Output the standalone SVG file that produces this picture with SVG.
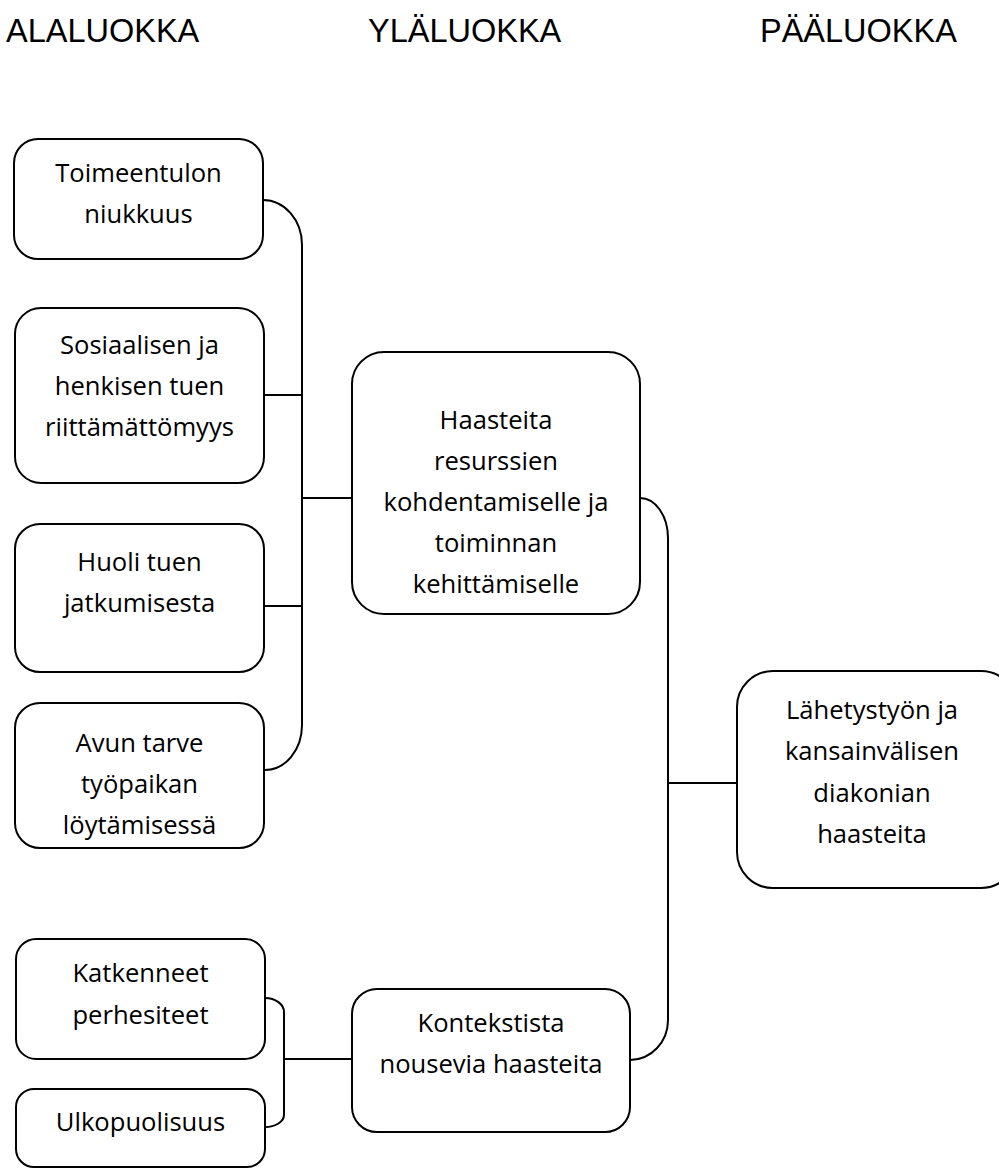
<svg xmlns="http://www.w3.org/2000/svg" width="999" height="1171" viewBox="0 0 999 1171">
<style>
.box{fill:#fff;stroke:#000;stroke-width:2}
.t{font-family:"Open Sans","Noto Sans",sans-serif;font-size:25.6px;fill:#000;text-anchor:middle}
.h{font-family:"Liberation Sans",Arial,sans-serif;font-size:32.5px;fill:#000}
.c{fill:none;stroke:#000;stroke-width:2}
</style>
<rect width="999" height="1171" fill="#fff"/>
<g id="headers">
<text class="h" x="6" y="42">ALALUOKKA</text>
<text class="h" x="368" y="42">YLÄLUOKKA</text>
<text class="h" x="760" y="42">PÄÄLUOKKA</text>
</g>
<g id="connectors">
<path class="c" d="M263,200 A39,45 0 0 1 302,245 L302,725 A37,45 0 0 1 265,770"/>
<path class="c" d="M264,395 H302 M264,606 H302 M302,498 H352"/>
<path class="c" d="M640,498 A28,40 0 0 1 668,538 L668,1020 A38,40 0 0 1 630,1060"/>
<path class="c" d="M668,783 H737"/>
<path class="c" d="M265,998 A19,14 0 0 1 284,1012 L284,1115 A19,12 0 0 1 265,1127"/>
<path class="c" d="M284,1059 H352"/>
</g>
<g id="n1"><rect class="box" x="14" y="139" width="249" height="120" rx="24"/>
<text class="t" x="138.5" y="182">Toimeentulon</text><text class="t" x="138.5" y="223">niukkuus</text></g>
<g id="n2"><rect class="box" x="15" y="308" width="249" height="175" rx="26"/>
<text class="t" x="139.5" y="354">Sosiaalisen ja</text><text class="t" x="139.5" y="395">henkisen tuen</text><text class="t" x="139.5" y="436">riittämättömyys</text></g>
<g id="n3"><rect class="box" x="15" y="524" width="249" height="148" rx="25"/>
<text class="t" x="139.5" y="571">Huoli tuen</text><text class="t" x="139.5" y="612">jatkumisesta</text></g>
<g id="n4"><rect class="box" x="15" y="703" width="249" height="145" rx="25"/>
<text class="t" x="139.5" y="752">Avun tarve</text><text class="t" x="139.5" y="793">työpaikan</text><text class="t" x="139.5" y="834">löytämisessä</text></g>
<g id="n5"><rect class="box" x="16" y="939" width="249" height="120" rx="20"/>
<text class="t" x="140.5" y="982">Katkenneet</text><text class="t" x="140.5" y="1024">perhesiteet</text></g>
<g id="n6"><rect class="box" x="16" y="1089" width="249" height="78" rx="18"/>
<text class="t" x="140.5" y="1131">Ulkopuolisuus</text></g>
<g id="n7"><rect class="box" x="352" y="352" width="288" height="262" rx="32"/>
<text class="t" x="496" y="429">Haasteita</text><text class="t" x="496" y="470">resurssien</text><text class="t" x="496" y="511">kohdentamiselle ja</text><text class="t" x="496" y="552">toiminnan</text><text class="t" x="496" y="593">kehittämiselle</text></g>
<g id="n8"><rect class="box" x="352" y="989" width="278" height="143" rx="25"/>
<text class="t" x="491" y="1032">Kontekstista</text><text class="t" x="491" y="1073">nousevia haasteita</text></g>
<g id="n9"><rect class="box" x="737" y="671" width="280" height="217" rx="36"/>
<text class="t" x="872" y="719">Lähetystyön ja</text><text class="t" x="872" y="760">kansainvälisen</text><text class="t" x="872" y="802">diakonian</text><text class="t" x="872" y="843">haasteita</text></g>
</svg>
